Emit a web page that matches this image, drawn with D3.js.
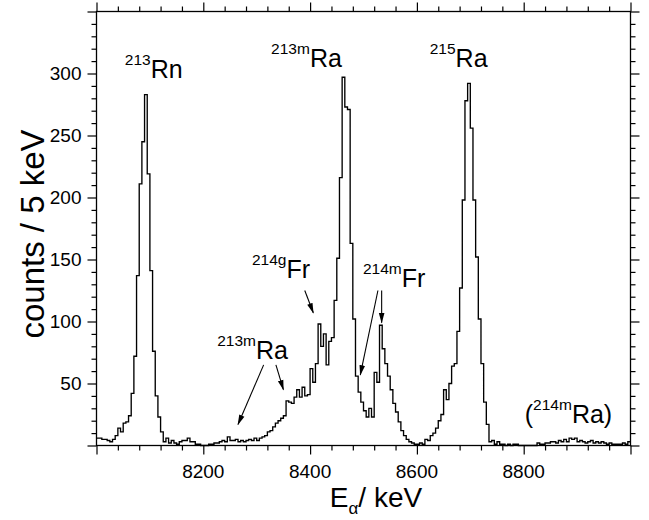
<!DOCTYPE html>
<html>
<head>
<meta charset="UTF-8">
<script src="https://d3js.org/d3.v7.min.js"></script>
<style>
  body { margin: 0; background: #fff; }
  svg text { fill: #000; font-family: Arial, "Liberation Sans", sans-serif; }
  .frame { fill: none; stroke: #000; stroke-width: 1.3px; }
  .hist { fill: none; stroke: #000; stroke-width: 1.35px; }
  .tick line { stroke: #000; stroke-width: 1.2px; }
  .arrow { stroke: #000; stroke-width: 1.1px; }
</style>
</head>
<body>
<div id="chart"></div>
<script>
// counts per 5 keV bin; first bin starts at 8000 keV
const binStart = 8000, binWidth = 5;
const counts8000 = [6, 6, 5, 5, 4, 3, 5, 8, 14, 11, 18, 19, 24, 42, 72, 137, 211, 245, 283, 219,
                    141, 76, 40, 23, 11, 3, 6, 2, 4, 2, 1, 3, 4, 4, 6, 3, 3, 1, 1, 0];
const counts8200 = [0, 0, 1, 1, 2, 2, 3, 4, 3, 7, 4, 4, 5, 3, 4, 3, 4, 5, 4, 6,
                    4, 6, 7, 8, 11, 12, 15, 18, 20, 22, 24, 36, 35, 34, 39, 45, 39, 47, 40, 41];
const counts8400 = [62, 51, 66, 98, 80, 90, 65, 84, 87, 117, 151, 216, 297, 273, 271, 163, 102, 56, 43, 35,
                    28, 23, 30, 23, 59, 51, 97, 78, 66, 56, 45, 34, 27, 19, 12, 8, 5, 3, 2, 1];
const counts8600 = [1, 2, 1, 5, 4, 8, 10, 14, 20, 25, 45, 37, 50, 64, 66, 92, 127, 198, 278, 292,
                    256, 198, 152, 102, 66, 35, 17, 3, 4, 1, 3, 1, 1, 0, 1, 0, 1, 1, 0, 0];
const counts8800 = [0, 0, 0, 0, 0, 2, 1, 1, 2, 2, 3, 3, 2, 4, 3, 5, 3, 6, 5, 6,
                    3, 4, 3, 2, 3, 4, 2, 3, 2, 3, 2, 1, 2, 1, 1, 1, 1, 2, 1, 3];

const xTickValues = [8200, 8400, 8600, 8800];
const yTickValues = [50, 100, 150, 200, 250, 300];

// isotope labels, anchored in data units (energy, counts)
const labels = [
  {pre: "", sup: "213", main: "Rn", e: 8053, c: 296},
  {pre: "", sup: "213m", main: "Ra", e: 8327, c: 305},
  {pre: "", sup: "215", main: "Ra", e: 8624, c: 305},
  {pre: "", sup: "214g", main: "Fr", e: 8291, c: 135},
  {pre: "", sup: "213m", main: "Ra", e: 8226, c: 70},
  {pre: "", sup: "214m", main: "Fr", e: 8499, c: 128},
  {pre: "(", sup: "214m", main: "Ra)", e: 8802, c: 18}
];
// arrows: from (e0,c0) to (e1,c1)
const arrows = [
  {e0: 8313, c0: 65, e1: 8265, c1: 17},
  {e0: 8336, c0: 65, e1: 8350, c1: 45},
  {e0: 8390, c0: 125, e1: 8406, c1: 107},
  {e0: 8527, c0: 125, e1: 8494, c1: 57},
  {e0: 8534, c0: 125, e1: 8534, c1: 99}
];

const counts = [].concat(counts8000, counts8200, counts8400, counts8600, counts8800);
const steps = counts.map((v, i) => [binStart + i * binWidth, v]);
steps.push([binStart + counts.length * binWidth, counts[counts.length - 1]]);

const W = 649, H = 520;
const margin = {top: 11.5, right: 18.5, bottom: 74.5, left: 96.5};
const width = W - margin.left - margin.right,
      height = H - margin.top - margin.bottom;

const svg = d3.select("#chart").append("svg")
    .attr("width", W).attr("height", H);

const x = d3.scaleLinear().domain([8000, 9000]).range([margin.left, margin.left + width]);
const y = d3.scaleLinear().domain([0, 350]).range([margin.top + height, margin.top]);

svg.append("defs").append("marker")
    .attr("id", "head")
    .attr("viewBox", "0 -4 12 8")
    .attr("refX", 11).attr("refY", 0)
    .attr("markerUnits", "userSpaceOnUse")
    .attr("markerWidth", 11).attr("markerHeight", 7)
    .attr("orient", "auto")
    .append("path").attr("d", "M0,-3.2L12,0L0,3.2Z").attr("fill", "#000");

// histogram
svg.append("path")
    .datum(steps)
    .attr("class", "hist")
    .attr("d", d3.line().x(d => x(d[0])).y(d => y(d[1])).curve(d3.curveStepAfter));

// ticks on all four sides, pointing outward
const xMinor = d3.range(8000, 9001, 40).filter(v => v % 200 !== 0);
const xMajor = d3.range(8000, 9001, 200);
const yMinor = d3.range(10, 350, 10).filter(v => v % 50 !== 0);
const yMajor = d3.range(0, 351, 50);

function addAxis(gen, scale, vals, size, tx, ty) {
  const g = svg.append("g").attr("transform", `translate(${tx},${ty})`)
      .call(gen(scale).tickValues(vals).tickSize(size).tickFormat(""));
  g.select(".domain").remove();
  return g;
}
const bottomY = margin.top + height, rightX = margin.left + width;
addAxis(d3.axisBottom, x, xMinor, 5, 0, bottomY);
addAxis(d3.axisBottom, x, xMajor, 9, 0, bottomY);
addAxis(d3.axisTop, x, xMinor, 5, 0, margin.top);
addAxis(d3.axisTop, x, xMajor, 9, 0, margin.top);
addAxis(d3.axisLeft, y, yMinor, 5, margin.left, 0);
addAxis(d3.axisLeft, y, yMajor, 9, margin.left, 0);
addAxis(d3.axisRight, y, yMinor, 5, rightX, 0);
addAxis(d3.axisRight, y, yMajor, 9, rightX, 0);

svg.append("rect").attr("class", "frame")
    .attr("x", margin.left).attr("y", margin.top)
    .attr("width", width).attr("height", height);

// tick labels
svg.selectAll(".xl").data(xTickValues).enter().append("text")
    .attr("x", d => x(d)).attr("y", bottomY + 32)
    .attr("text-anchor", "middle").style("font-size", "19px")
    .text(d => d);
svg.selectAll(".yl").data(yTickValues).enter().append("text")
    .attr("x", margin.left - 15).attr("y", d => y(d))
    .attr("dy", "0.36em")
    .attr("text-anchor", "end").style("font-size", "19px")
    .text(d => d);

// axis titles
const xt = svg.append("text")
    .attr("x", 376).attr("y", 507)
    .attr("text-anchor", "middle").style("font-size", "28px");
xt.append("tspan").text("E");
xt.append("tspan").attr("dy", 7).style("font-size", "17px").text("α");
xt.append("tspan").attr("dy", -7).text("/ keV");

svg.append("text")
    .attr("transform", `translate(44,234) rotate(-90)`)
    .attr("text-anchor", "middle").style("font-size", "33px")
    .text("counts / 5 keV");

// isotope labels
labels.forEach(l => {
  const t = svg.append("text").attr("x", x(l.e)).attr("y", y(l.c))
      .style("font-size", "25px");
  if (l.pre) t.append("tspan").text(l.pre);
  t.append("tspan").attr("dy", -13).style("font-size", "15.5px").text(l.sup);
  t.append("tspan").attr("dy", 13).text(l.main);
});

svg.selectAll(".arrow").data(arrows).enter().append("line")
    .attr("class", "arrow")
    .attr("x1", d => x(d.e0)).attr("y1", d => y(d.c0))
    .attr("x2", d => x(d.e1)).attr("y2", d => y(d.c1))
    .attr("marker-end", "url(#head)");
</script>
</body>
</html>
